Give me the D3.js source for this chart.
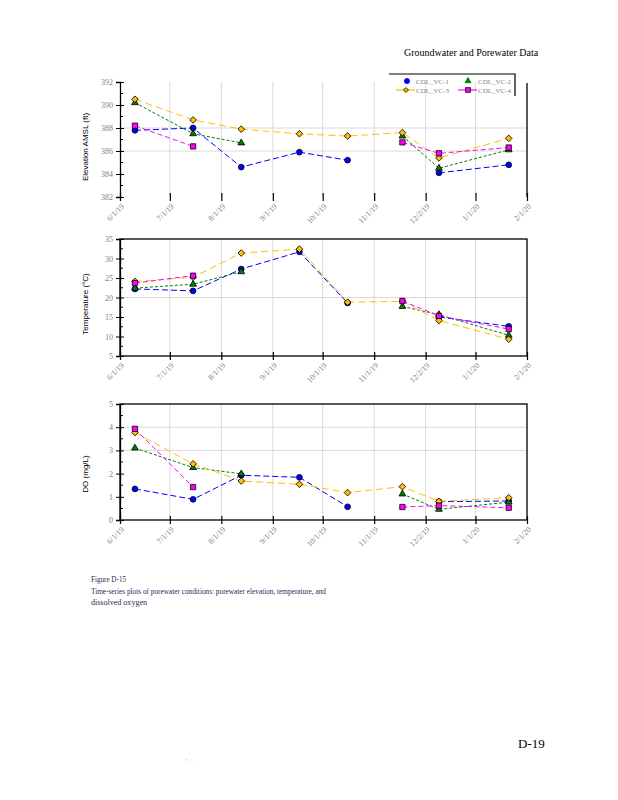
<!DOCTYPE html>
<html>
<head>
<meta charset="utf-8">
<script src="https://cdn.jsdelivr.net/npm/d3@7"></script>
<style>
body { margin: 0; background: #fff; }
svg { display: block; }
</style>
</head>
<body>
<svg id="page" width="618" height="800"></svg>
<script>
// Sampling dates and axis ticks
const sampleDates = ["2019-06-10", "2019-07-15", "2019-08-13", "2019-09-17", "2019-10-16", "2019-11-18", "2019-12-10", "2020-01-21"];
const tickDates = ["2019-06-01", "2019-07-01", "2019-08-01", "2019-09-01", "2019-10-01", "2019-11-01", "2019-12-02", "2020-01-01", "2020-02-01"];
const tickLabels = ["6/1/19", "7/1/19", "8/1/19", "9/1/19", "10/1/19", "11/1/19", "12/2/19", "1/1/20", "2/1/20"];
const seriesNames = ["CDL_VC-1", "CDL_VC-2", "CDL_VC-3", "CDL_VC-4"];

// Porewater elevation (ft AMSL)
const elevVC1 = [387.8, 388.0, 384.6, 385.9, 385.2, null, 384.1, 384.8];
const elevVC2 = [390.2, 387.5, 386.7, null, null, 387.3, 384.5, 386.1];
const elevVC3 = [390.5, 388.7, 387.9, 387.5, 387.3, 387.6, 385.4, 387.1];
const elevVC4 = [388.2, 386.4, null, null, null, 386.75, 385.8, 386.3];

// Temperature (C)
const tempVC1 = [22.2, 21.7, 27.3, 31.7, 18.6, null, 15.0, 12.6];
const tempVC2 = [22.4, 23.4, 26.6, null, null, 17.7, 15.6, 10.3];
const tempVC3 = [24.1, 25.2, 31.4, 32.4, 18.8, 19.0, 14.1, 9.3];
const tempVC4 = [23.7, 25.6, null, null, null, 19.1, 15.3, 11.9];

// Dissolved oxygen (mg/L)
const doVC1 = [1.34, 0.89, 1.93, 1.84, 0.57, null, 0.79, 0.82];
const doVC2 = [3.1, 2.26, 1.99, null, null, 1.12, 0.46, 0.77];
const doVC3 = [3.77, 2.42, 1.68, 1.54, 1.18, 1.44, 0.8, 0.96];
const doVC4 = [3.93, 1.42, null, null, null, 0.56, 0.62, 0.53];

const seriesStyle = [
    { color: "#0000ff", symbol: d3.symbolCircle, size: 26, rotate: 0, dash: "6,3" },
    { color: "#008000", symbol: d3.symbolTriangle, size: 20, rotate: 0, dash: "3,2" },
    { color: "#ffc000", symbol: d3.symbolSquare, size: 22, rotate: 45, dash: "7,4" },
    { color: "#ff00ff", symbol: d3.symbolSquare, size: 28, rotate: 0, dash: "5,3" }
];

const labelColor = "#8b7b7b";
const gridColor = "#d9d9d9";

const panels = [
    { title: "Elevation AMSL (ft)", values: [elevVC1, elevVC2, elevVC3, elevVC4],
      domain: [382, 392], step: 2, minor: 1, grid: [386, 388], top: 82, bottom: 197, box: false, titleY: 147 },
    { title: "Temperature (°C)", values: [tempVC1, tempVC2, tempVC3, tempVC4],
      domain: [5, 35], step: 5, minor: 2.5, grid: [20], top: 239, bottom: 356, box: true, titleY: 304 },
    { title: "DO (mg/L)", values: [doVC1, doVC2, doVC3, doVC4],
      domain: [0, 5], step: 1, minor: 0.5, grid: [3, 4], top: 404, bottom: 520, box: true, titleY: 474 }
];

const svg = d3.select("#page");
const parse = d3.timeParse("%Y-%m-%d");
const dates = sampleDates.map(parse);
const ticks = tickDates.map(parse);

const left = 120, right = 527;
const x = d3.scaleTime().domain([ticks[0], ticks[ticks.length - 1]]).range([left, right]);

function drawPanel(p) {
    const y = d3.scaleLinear().domain(p.domain).range([p.bottom, p.top]);
    const g = svg.append("g");

    // gridlines
    g.selectAll(".vgrid").data(ticks.slice(1, -1)).join("line")
        .attr("x1", d => x(d)).attr("x2", d => x(d))
        .attr("y1", p.top).attr("y2", p.bottom)
        .attr("stroke", gridColor).attr("stroke-width", 1);
    g.selectAll(".hgrid").data(p.grid).join("line")
        .attr("x1", left).attr("x2", right)
        .attr("y1", d => y(d)).attr("y2", d => y(d))
        .attr("stroke", gridColor).attr("stroke-width", 1);

    // frame
    if (p.box) {
        g.append("rect")
            .attr("x", left).attr("y", p.top)
            .attr("width", right - left).attr("height", p.bottom - p.top)
            .attr("fill", "none").attr("stroke", "#000").attr("stroke-width", 1.3);
    } else {
        g.append("line")
            .attr("x1", right).attr("x2", right)
            .attr("y1", p.top + 1).attr("y2", p.bottom)
            .attr("stroke", "#000").attr("stroke-width", 1.3);
    }

    // y axis
    const yTicks = d3.range(p.domain[0], p.domain[1] + 1e-6, p.step);
    const ya = g.append("g")
        .attr("transform", `translate(${left},0)`)
        .call(d3.axisLeft(y).tickValues(yTicks).tickFormat(d3.format("~g")).tickSize(4).tickPadding(4));
    ya.select(".domain").attr("stroke", "#000").attr("stroke-width", 1.3);
    ya.selectAll(".tick line").attr("x1", 4).attr("x2", -4).attr("stroke", "#000");
    ya.selectAll(".tick text")
        .attr("x", -7)
        .attr("fill", labelColor)
        .style("font", "8px 'Liberation Serif'");
    const minorVals = d3.range(p.domain[0], p.domain[1], p.minor)
        .filter(v => Math.abs((v - p.domain[0]) / p.step - Math.round((v - p.domain[0]) / p.step)) > 1e-6);
    ya.selectAll(".minor").data(minorVals).join("line")
        .attr("x1", 0).attr("x2", 3)
        .attr("y1", d => y(d)).attr("y2", d => y(d))
        .attr("stroke", "#000");

    // x axis (frame supplies the baseline where there is one)
    const xa = g.append("g")
        .attr("transform", `translate(0,${p.bottom})`)
        .call(d3.axisBottom(x).tickValues(ticks).tickFormat((d, i) => tickLabels[i]).tickSize(4));
    xa.select(".domain").remove();
    xa.selectAll(".tick line").attr("y1", -4).attr("y2", 4).attr("stroke", "#000").attr("stroke-width", 1.2);
    xa.selectAll(".tick text")
        .attr("x", 0).attr("y", 0).attr("dy", null)
        .attr("text-anchor", "end")
        .attr("transform", "translate(4,10) rotate(-45)")
        .attr("fill", labelColor)
        .style("font", "8px 'Liberation Serif'");

    // axis title
    g.append("text")
        .attr("transform", `translate(88,${p.titleY}) rotate(-90)`)
        .attr("text-anchor", "middle")
        .style("font", "8px 'Liberation Sans'")
        .attr("fill", "#000")
        .text(p.title);

    // series lines
    const line = d3.line()
        .defined(d => d.v != null)
        .x(d => x(d.date))
        .y(d => y(d.v));
    p.values.forEach((vals, i) => {
        const pts = vals.map((v, j) => ({ date: dates[j], v: v }));
        g.append("path").datum(pts)
            .attr("d", line)
            .attr("fill", "none")
            .attr("stroke", seriesStyle[i].color)
            .attr("stroke-width", 1)
            .attr("stroke-dasharray", seriesStyle[i].dash);
    });

    // markers
    p.values.forEach((vals, i) => {
        const s = seriesStyle[i];
        const pts = vals.map((v, j) => ({ date: dates[j], v: v })).filter(d => d.v != null);
        g.selectAll(".m" + i).data(pts).join("path")
            .attr("transform", d => `translate(${x(d.date)},${y(d.v)}) rotate(${s.rotate})`)
            .attr("d", d3.symbol().type(s.symbol).size(s.size))
            .attr("fill", s.color)
            .attr("stroke", "#000")
            .attr("stroke-width", 0.8);
    });
}

panels.forEach(drawPanel);

// legend (top chart)
const legend = svg.append("g");
legend.append("path")
    .attr("d", "M389,74 H515 V96")
    .attr("fill", "none").attr("stroke", "#000").attr("stroke-width", 1.2);
const legendPos = [
    { mx: 407, my: 81, tx: 416, line: false },
    { mx: 468, my: 81, tx: 478, line: false },
    { mx: 406, my: 90, tx: 416, line: true },
    { mx: 468, my: 90, tx: 478, line: true }
];
seriesNames.forEach((name, i) => {
    const s = seriesStyle[i], lp = legendPos[i];
    if (lp.line) {
        legend.append("line")
            .attr("x1", lp.mx - 10).attr("x2", lp.mx + 9)
            .attr("y1", lp.my).attr("y2", lp.my)
            .attr("stroke", s.color).attr("stroke-width", 1.2);
    }
    legend.append("path")
        .attr("transform", `translate(${lp.mx},${lp.my}) rotate(${s.rotate})`)
        .attr("d", d3.symbol().type(s.symbol).size(i === 2 ? 12 : s.size * 0.8))
        .attr("fill", s.color)
        .attr("stroke", i < 2 ? s.color : "#000")
        .attr("stroke-width", 0.8);
    legend.append("text")
        .attr("x", lp.tx).attr("y", lp.my + 2.5)
        .attr("fill", labelColor)
        .style("font", "7px 'Liberation Serif'")
        .text(name);
});

// page header, caption and footer
svg.append("text")
    .attr("x", 404).attr("y", 56)
    .style("font", "10px 'Liberation Serif'")
    .attr("fill", "#000")
    .text("Groundwater and Porewater Data");

const captionLines = [
    { text: "Figure D-15", y: 582, w: 35 },
    { text: "Time-series plots of porewater conditions: porewater elevation, temperature, and", y: 594, w: 235 },
    { text: "dissolved oxygen", y: 605, w: 56 }
];
svg.selectAll(".caption").data(captionLines).join("text")
    .attr("x", 91).attr("y", d => d.y)
    .attr("textLength", d => d.w)
    .attr("lengthAdjust", "spacingAndGlyphs")
    .style("font", "9px 'Liberation Serif'")
    .attr("fill", "#1f2a5c")
    .text(d => d.text);

svg.append("text")
    .attr("x", 518).attr("y", 748)
    .style("font", "13px 'Liberation Serif'")
    .attr("fill", "#000")
    .text("D-19");

svg.append("text")
    .attr("x", 186).attr("y", 763)
    .style("font", "6px 'Liberation Sans'")
    .attr("fill", "#999")
    .text("'   :   .");
</script>
</body>
</html>
